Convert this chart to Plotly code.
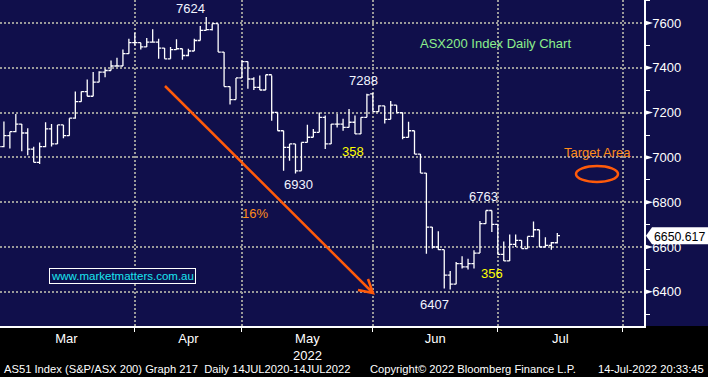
import plotly.graph_objects as go

# ---- data (ASX200 daily OHLC, Mar-Jul 2022) ----
bar_index = list(range(95))
opens = [7075, 7048, 7097, 7115, 7149, 7109, 7037, 6978, 7048, 7127,
         7060, 7145, 7097, 7175, 7249, 7294, 7273, 7336, 7381, 7388,
         7408, 7408, 7463, 7512, 7512, 7493, 7515, 7515, 7488, 7440,
         7481, 7485, 7455, 7475, 7522, 7567, 7570, 7597, 7470, 7316,
         7258, 7355, 7428, 7350, 7313, 7301, 7369, 7201, 7119, 7045,
         7060, 6940, 7067, 7090, 7112, 7179, 7060, 7149, 7149, 7134,
         7157, 7105, 7179, 7284, 7204, 7230, 7170, 7233, 7200, 7089,
         7119, 7015, 6930, 6689, 6600, 6588, 6474, 6434, 6526, 6511,
         6526, 6573, 6704, 6763, 6701, 6567, 6538, 6612, 6630, 6593,
         6647, 6677, 6600, 6607, 6619]
highs = [7105, 7160, 7115, 7194, 7149, 7130, 7048, 7067, 7157, 7149,
         7145, 7145, 7175, 7294, 7294, 7348, 7381, 7385, 7396, 7433,
         7445, 7482, 7530, 7557, 7512, 7533, 7572, 7530, 7488, 7493,
         7527, 7485, 7485, 7530, 7587, 7627, 7597, 7597, 7470, 7316,
         7355, 7433, 7428, 7358, 7366, 7369, 7366, 7201, 7119, 7060,
         7060, 7067, 7146, 7127, 7201, 7187, 7149, 7194, 7172, 7216,
         7187, 7179, 7284, 7287, 7233, 7230, 7252, 7233, 7200, 7159,
         7119, 7015, 6930, 6689, 6670, 6588, 6493, 6533, 6559, 6548,
         6585, 6716, 6763, 6763, 6701, 6625, 6656, 6656, 6630, 6647,
         6714, 6677, 6644, 6622, 6662]
lows = [7037, 7045, 7040, 7112, 7027, 7010, 6978, 6970, 7045, 7049,
        7060, 7085, 7097, 7172, 7249, 7273, 7273, 7336, 7358, 7388,
        7406, 7408, 7463, 7500, 7482, 7493, 7512, 7440, 7440, 7440,
        7481, 7436, 7452, 7475, 7522, 7567, 7567, 7470, 7316, 7236,
        7258, 7355, 7306, 7301, 7301, 7301, 7164, 7119, 6940, 6985,
        6928, 6940, 7067, 7090, 7112, 7037, 7060, 7134, 7119, 7134,
        7105, 7105, 7179, 7204, 7204, 7151, 7170, 7200, 7081, 7089,
        7015, 6930, 6570, 6593, 6588, 6415, 6410, 6434, 6504, 6499,
        6504, 6573, 6704, 6667, 6567, 6538, 6538, 6600, 6593, 6593,
        6644, 6600, 6600, 6588, 6616]
closes = [7048, 7097, 7115, 7149, 7109, 7037, 6978, 7048, 7127, 7060,
          7145, 7097, 7175, 7249, 7294, 7273, 7336, 7381, 7388, 7408,
          7408, 7463, 7512, 7512, 7493, 7515, 7515, 7488, 7440, 7481,
          7485, 7455, 7475, 7522, 7567, 7570, 7597, 7470, 7316, 7258,
          7355, 7428, 7350, 7313, 7301, 7369, 7201, 7119, 7045, 7060,
          6940, 7067, 7090, 7112, 7179, 7060, 7149, 7149, 7134, 7157,
          7105, 7179, 7279, 7204, 7230, 7170, 7233, 7200, 7089, 7119,
          7015, 6930, 6689, 6600, 6588, 6474, 6434, 6526, 6511, 6526,
          6573, 6704, 6763, 6701, 6567, 6538, 6612, 6630, 6593, 6647,
          6677, 6600, 6607, 6619, 6650.617]

month_starts = [0, 23, 41, 63, 84, 105]
month_labels = ["Mar", "Apr", "May<br>2022", "Jun", "Jul"]
y_major = [6400, 6600, 6800, 7000, 7200, 7400, 7600]
y_minor = [6300, 6500, 6700, 6900, 7100, 7300, 7500, 7700]
last_price_text = "6650.617"

# ---- styling ----
NAVY = "#100f4b"
GRID = "#9a9a9a"
ORANGE = "#ff5a0a"
FONT = "Liberation Sans, Arial, sans-serif"
W, H = 708, 377
PW, PH = 644, 326  # plot area pixels

def px(x):
    return x / PW

def py(y):
    return 1 - y / PH

fig = go.Figure()
fig.add_trace(go.Ohlc(
    x=bar_index, open=opens, high=highs, low=lows, close=closes,
    increasing=dict(line=dict(color="white", width=1.3)),
    decreasing=dict(line=dict(color="white", width=1.3)),
    tickwidth=0.45, showlegend=False, hoverinfo="skip"))

mid = [(a + b) / 2 for a, b in zip(month_starts[:-1], month_starts[1:])]

fig.update_layout(
    width=W, height=H, margin=dict(l=0, r=W - PW, t=0, b=H - PH),
    paper_bgcolor="black", plot_bgcolor=NAVY,
    font=dict(family=FONT, color="white", size=13),
    showlegend=False,
    xaxis=dict(range=[0.34, 108.57], rangeslider=dict(visible=False),
               tickmode="array", tickvals=mid, ticktext=month_labels,
               ticks="", showgrid=False, zeroline=False,
               showline=True, linecolor="white", linewidth=1.5,
               tickfont=dict(size=13, color="white"),
               minor=dict(tickmode="array", tickvals=month_starts[1:],
                          showgrid=True, gridcolor=GRID, gridwidth=1.6,
                          griddash="2px,2px", ticks="outside", ticklen=4,
                          tickcolor="white")),
    yaxis=dict(range=[6247.3, 7702.7], side="right",
               tickmode="array", tickvals=y_major,
               showgrid=True, gridcolor=GRID, gridwidth=1.6, griddash="2px,2px",
               zeroline=False, showline=True, linecolor="white", linewidth=1.5,
               ticks="outside", ticklen=4, tickcolor="white",
               ticklabelstandoff=0,
               tickfont=dict(size=13, color="white"),
               minor=dict(tickmode="array", tickvals=y_minor,
                          ticks="outside", ticklen=4, tickcolor="white",
                          showgrid=False)),
)

shapes = []
# navy background behind right axis
shapes.append(dict(type="rect", xref="paper", yref="paper", x0=0, x1=W / PW,
                   y0=0, y1=1, fillcolor=NAVY, line=dict(width=0), layer="below"))
# triangle markers on major ticks
for v in y_major:
    shapes.append(dict(type="path", xref="paper", yref="y",
                       path=f"M {px(644)},{v + 12} L {px(653)},{v} L {px(644)},{v - 12} Z",
                       fillcolor="white", line=dict(width=0)))
# last price tag
lp = closes[-1]
shapes.append(dict(type="path", xref="paper", yref="y",
                   path=(f"M {px(646)},{lp} L {px(652)},{lp + 38} L {px(708)},{lp + 38} "
                         f"L {px(708)},{lp - 38} L {px(652)},{lp - 38} Z"),
                   fillcolor="white", line=dict(width=0)))
# arrow
x0a, y0a, x1a, y1a = 165, 86, 373, 293
shapes.append(dict(type="path", xref="paper", yref="paper",
                   path=(f"M {px(x0a)},{py(y0a)} L {px(x1a)},{py(y1a)} "
                         f"M {px(358)},{py(290)} L {px(x1a)},{py(y1a)} L {px(368)},{py(279)}"),
                   line=dict(color=ORANGE, width=2.5)))
# target ellipse
shapes.append(dict(type="circle", xref="paper", yref="paper",
                   x0=px(576), x1=px(618), y0=py(182), y1=py(166),
                   line=dict(color=ORANGE, width=2.5)))
fig.update_layout(shapes=shapes)

ann = []
def txt(t, x, y, color="#f2f4ff", size=13, xanchor="center", **kw):
    ann.append(dict(text=t, x=px(x), y=py(y), xref="paper", yref="paper",
                    showarrow=False, xanchor=xanchor, yanchor="middle",
                    font=dict(color=color, size=size, family=FONT), **kw))

txt("7624", 190, 9)
txt("7288", 363, 80)
txt("6930", 298, 184)
txt("6407", 434, 304)
txt("6763", 483, 197)
txt("358", 353, 151, color="#ffff00")
txt("356", 492, 273, color="#ffff00")
txt("16%", 255, 213, color="#ff8c1a")
txt("ASX200 Index Daily Chart", 495, 43, color="#8cf08c")
txt("Target Area", 597, 153, color="#ff8c1a")
txt("www.marketmatters.com.au", 122, 276, color="#19e6f0", size=11.5,
    bordercolor="white", borderwidth=1, borderpad=1, bgcolor=NAVY)
txt(last_price_text, 679.5, 236.5, color="black", size=12.3)
# footer
txt("AS51 Index (S&P/ASX 200) Graph 217  Daily 14JUL2020-14JUL2022", 2, 369,
    color="white", size=11.2, xanchor="left")
txt("Copyright\u00a9 2022 Bloomberg Finance L.P.", 368, 369, color="white", size=11.2,
    xanchor="left")
txt("14-Jul-2022 20:33:45", 706, 369, color="white", size=11.2, xanchor="right")
fig.update_layout(annotations=ann)

fig.write_html("out.html")
